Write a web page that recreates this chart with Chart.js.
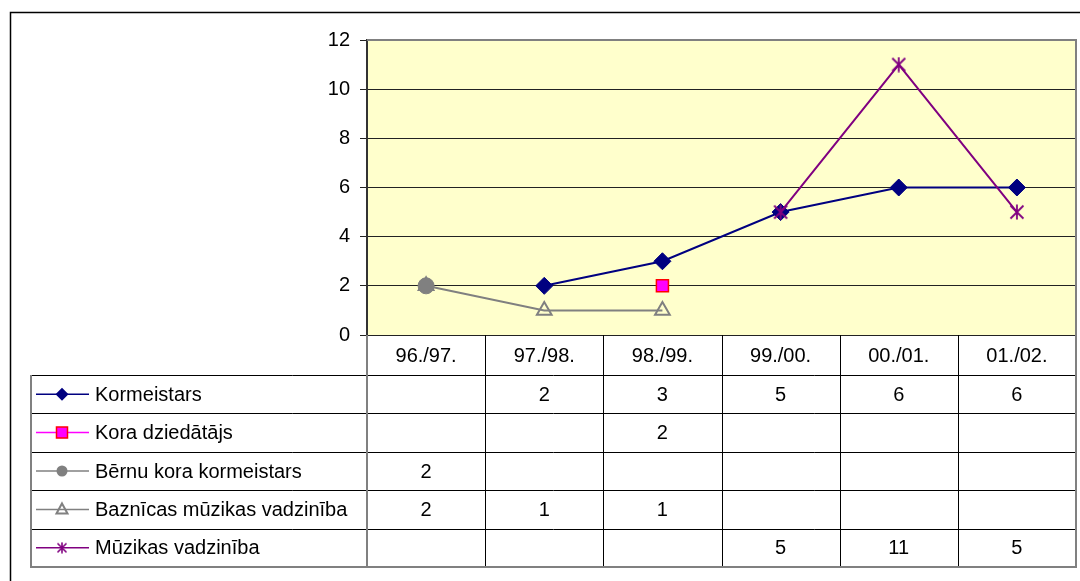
<!DOCTYPE html>
<html>
<head>
<meta charset="utf-8">
<script src="https://cdn.jsdelivr.net/npm/chart.js@4.4.1/dist/chart.umd.min.js"></script>
<style>
  html, body { margin: 0; padding: 0; background: #fff; }
  canvas { display: block; }
</style>
</head>
<body>
<canvas id="chart" width="1080" height="581"></canvas>
<script>
// data
const categories = ['96./97.', '97./98.', '98./99.', '99./00.', '00./01.', '01./02.'];
const kormeistars = [null, 2, 3, 5, 6, 6];
const koraDziedatajs = [null, null, 2, null, null, null];
const bernuKoraKormeistars = [2, null, null, null, null, null];
const baznicasMuzikasVadziniba = [2, 1, 1, null, null, null];
const muzikasVadziniba = [null, null, null, 5, 11, 5];
const yTicks = [0, 2, 4, 6, 8, 10, 12];

const FONT = 'Liberation Sans, Arial, sans-serif';
const PLOT_LEFT = 367;
const PLOT_RIGHT = 1076;

// asterisk marker (X + vertical stroke)
function makeStar(size, color, lw) {
  const c = document.createElement('canvas');
  c.width = size; c.height = size;
  const g = c.getContext('2d');
  g.strokeStyle = color;
  g.lineWidth = lw;
  const m = 1.5, s = size - 1.5;
  g.beginPath();
  g.moveTo(m, m); g.lineTo(s, s);
  g.moveTo(s, m); g.lineTo(m, s);
  g.moveTo(size / 2, 0.5); g.lineTo(size / 2, size - 0.5);
  g.stroke();
  return c;
}
const starBig = makeStar(16, '#800080', 1.8);
const starSmall = makeStar(12, '#800080', 1.6);

const series = [
  { label: 'Kormeistars', data: kormeistars, color: '#000080', style: 'rectRot',
    radius: 8.5, fill: '#000080', border: '#000080', bw: 1 },
  { label: 'Kora dziedātājs', data: koraDziedatajs, color: '#FF00FF', style: 'rect',
    radius: 8.5, fill: '#FF00FF', border: '#FF0000', bw: 1.5 },
  { label: 'Bērnu kora kormeistars', data: bernuKoraKormeistars, color: '#808080', style: 'circle',
    radius: 8, fill: '#808080', border: '#808080', bw: 1 },
  { label: 'Baznīcas mūzikas vadzinība', data: baznicasMuzikasVadziniba, color: '#808080', style: 'triangle',
    radius: 8.5, fill: 'rgba(0,0,0,0)', border: '#808080', bw: 2 },
  { label: 'Mūzikas vadzinība', data: muzikasVadziniba, color: '#800080', style: starBig,
    radius: 8, fill: '#800080', border: '#800080', bw: 1 }
];

function legendMarker(ctx, s, x, y) {
  ctx.save();
  ctx.fillStyle = s.fill;
  ctx.strokeStyle = s.border;
  ctx.lineWidth = s.bw;
  ctx.beginPath();
  if (s.style === 'rectRot') {
    const r = 6.5;
    ctx.moveTo(x, y - r); ctx.lineTo(x + r, y); ctx.lineTo(x, y + r); ctx.lineTo(x - r, y);
    ctx.closePath(); ctx.fill();
  } else if (s.style === 'rect') {
    ctx.rect(x - 5.5, y - 5.5, 11, 11); ctx.fill(); ctx.stroke();
  } else if (s.style === 'circle') {
    ctx.arc(x, y, 5.5, 0, Math.PI * 2); ctx.fill();
  } else if (s.style === 'triangle') {
    ctx.moveTo(x, y - 6); ctx.lineTo(x + 5.5, y + 4); ctx.lineTo(x - 5.5, y + 4);
    ctx.closePath(); ctx.stroke();
  } else {
    ctx.drawImage(starSmall, x - 6, y - 6);
  }
  ctx.restore();
}

// background, plot frame and data table
const tablePlugin = {
  id: 'tablePlugin',
  afterLayout(chart) {
    // the plot area ends at the right frame line of the original
    const a = chart.chartArea;
    a.right = PLOT_RIGHT;
    a.width = PLOT_RIGHT - a.left;
    const xs = chart.scales.x;
    xs.left = a.left; xs.right = PLOT_RIGHT; xs.width = PLOT_RIGHT - a.left;
    xs.configure();
  },
  beforeDraw(chart) {
    const { ctx, chartArea: a } = chart;
    ctx.save();
    ctx.fillStyle = '#fff';
    ctx.fillRect(0, 0, chart.width, chart.height);
    ctx.fillStyle = '#FFFFCC';
    ctx.fillRect(a.left, a.top, a.right - a.left, a.bottom - a.top);
    ctx.restore();
  },
  afterDraw(chart) {
    const { ctx, chartArea: a } = chart;
    const xs = chart.scales.x;
    const step = (a.right - a.left) / categories.length;
    const headTop = a.bottom;
    const headH = 40;
    const rowH = 38.4;
    const rowsTop = headTop + headH;
    const bottom = rowsTop + rowH * series.length;
    const tableLeft = 31;

    ctx.save();
    // inner lines
    ctx.strokeStyle = '#000';
    ctx.lineWidth = 1;
    ctx.beginPath();
    for (let i = 0; i < series.length; i++) {
      const y = Math.round(rowsTop + i * rowH) + 0.5;
      ctx.moveTo(tableLeft, y); ctx.lineTo(a.right, y);
    }
    for (let i = 1; i < categories.length; i++) {
      const x = Math.round(a.left + i * step) + 0.5;
      ctx.moveTo(x, headTop); ctx.lineTo(x, bottom);
    }
    ctx.stroke();

    // outer frame (gray)
    ctx.strokeStyle = '#808080';
    ctx.lineWidth = 2;
    ctx.beginPath();
    ctx.moveTo(a.left, a.top); ctx.lineTo(a.right, a.top); ctx.lineTo(a.right, bottom);
    ctx.lineTo(tableLeft, bottom); ctx.lineTo(tableLeft, rowsTop);
    ctx.moveTo(a.left, headTop); ctx.lineTo(a.left, bottom);
    ctx.stroke();

    // texts
    ctx.fillStyle = '#000';
    ctx.font = '20px ' + FONT;
    ctx.textAlign = 'center';
    ctx.textBaseline = 'middle';
    categories.forEach((c, i) => {
      ctx.fillText(c, xs.getPixelForValue(i), headTop + headH / 2 + 1);
    });
    series.forEach((s, r) => {
      const cy = rowsTop + r * rowH + rowH / 2 + 1;
      s.data.forEach((v, i) => {
        if (v !== null) ctx.fillText(String(v), xs.getPixelForValue(i), cy);
      });
    });

    // legend keys
    ctx.textAlign = 'left';
    series.forEach((s, r) => {
      const cy = rowsTop + r * rowH + rowH / 2;
      ctx.strokeStyle = s.color;
      ctx.lineWidth = 1.5;
      ctx.beginPath();
      ctx.moveTo(36, cy); ctx.lineTo(89, cy);
      ctx.stroke();
      legendMarker(ctx, s, 62, cy);
      ctx.fillStyle = '#000';
      ctx.fillText(s.label, 95, cy + 1);
    });

    // outer chart border
    ctx.strokeStyle = '#000';
    ctx.lineWidth = 1.5;
    ctx.beginPath();
    ctx.moveTo(10.5, chart.height + 2); ctx.lineTo(10.5, 12.5); ctx.lineTo(chart.width + 2, 12.5);
    ctx.stroke();
    ctx.restore();
  }
};

new Chart(document.getElementById('chart'), {
  type: 'line',
  data: {
    labels: categories,
    datasets: series.map((s, i) => ({
      label: s.label,
      data: s.data,
      borderColor: s.color,
      borderWidth: 2,
      backgroundColor: s.fill,
      pointStyle: s.style,
      pointRadius: s.radius,
      pointBackgroundColor: s.fill,
      pointBorderColor: s.border,
      pointBorderWidth: s.bw,
      fill: false,
      tension: 0,
      spanGaps: false,
      order: series.length - i
    }))
  },
  options: {
    responsive: false,
    animation: false,
    devicePixelRatio: 1,
    layout: { padding: { left: 0, top: 40, right: 4, bottom: 246 } },
    plugins: {
      legend: { display: false },
      tooltip: { enabled: false }
    },
    scales: {
      x: { display: false, offset: true },
      y: {
        min: 0,
        max: 12,
        afterFit(scale) { scale.width = PLOT_LEFT; },
        afterBuildTicks(scale) { scale.ticks = yTicks.map(v => ({ value: v })); },
        ticks: { padding: 10, color: '#000', font: { family: FONT, size: 20 } },
        grid: { color: '#222', lineWidth: 1, tickLength: 7 },
        border: { color: '#333', width: 2 }
      }
    }
  },
  plugins: [tablePlugin]
});
</script>
</body>
</html>
